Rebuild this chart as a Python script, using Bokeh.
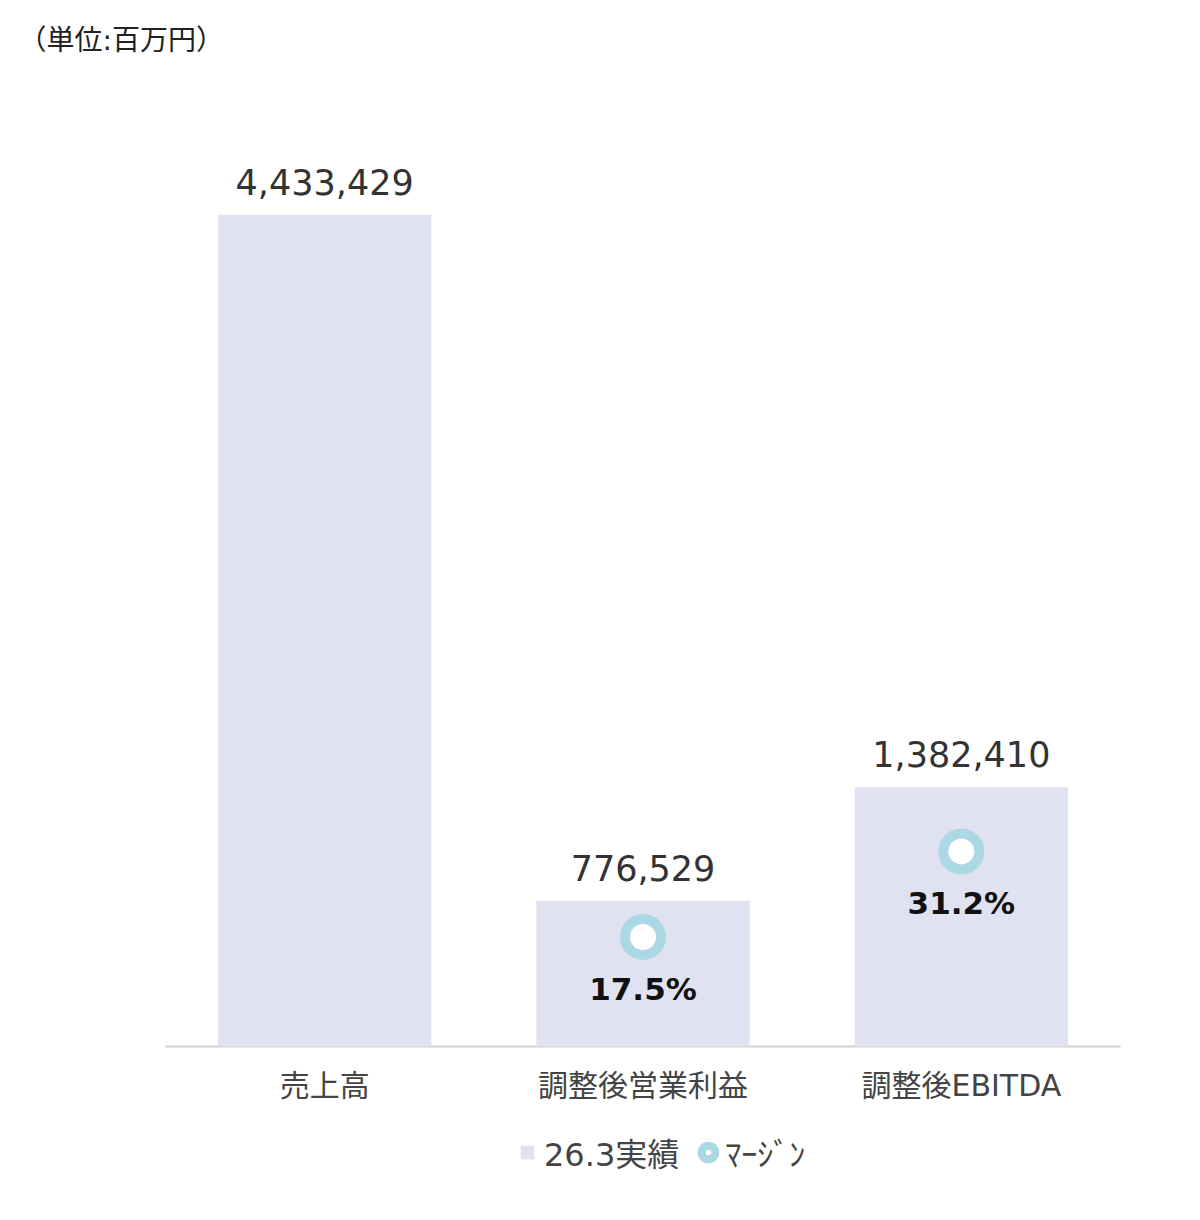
from bokeh.plotting import figure
from bokeh.models import Range1d, Legend, LegendItem, Label
from bokeh.core.properties import value
from bokeh.embed import file_html
from bokeh.resources import INLINE

# ---- data ----
categories = ["売上高", "調整後営業利益", "調整後EBITDA"]
actual = [4433429, 776529, 1382410]
actual_labels = ["4,433,429", "776,529", "1,382,410"]
margin_cats = ["調整後営業利益", "調整後EBITDA"]
margins = [17.5, 31.2]
margin_labels = ["17.5%", "31.2%"]
unit_label = "（単位:百万円）"
legend_bar = "26.3実績"
legend_margin = "ﾏｰｼﾞﾝ"

# ---- layout constants (pixels) ----
W, H = 1184, 1210
AX_LEFT, AX_RIGHT = 165, 1120      # horizontal extent of the category axis
AX_TOP, AX_BASE = 108, 1046        # top of value scale and baseline
Y_MAX, M_MAX = 5_000_000, 150      # value scale maxima at AX_TOP

n = len(categories)
xpx = (AX_RIGHT - AX_LEFT) / n
x_start = -AX_LEFT / xpx
x_end = (W - AX_LEFT) / xpx
ypx = (AX_BASE - AX_TOP) / Y_MAX
y_start = -(H - AX_BASE) / ypx
y_end = Y_MAX + AX_TOP / ypx
mpx = (AX_BASE - AX_TOP) / M_MAX
m_start = -(H - AX_BASE) / mpx
m_end = M_MAX + AX_TOP / mpx

xpos = {c: i + 0.5 for i, c in enumerate(categories)}
bar_x = [xpos[c] for c in categories]
margin_x = [xpos[c] for c in margin_cats]

BAR = "#e0e2f2"
RING = "#abd8e5"
FONT = "DejaVu Sans, Noto Sans CJK JP"

p = figure(
    x_range=Range1d(x_start, x_end), y_range=Range1d(y_start, y_end),
    width=W, height=H, min_border=0,
    x_axis_type=None, y_axis_type=None,
    output_backend="svg", toolbar_location=None,
)
p.extra_y_ranges = {"m": Range1d(m_start, m_end)}
p.outline_line_color = None
p.grid.visible = False

# baseline (category axis line)
p.segment(x0=[0], y0=[0], x1=[n], y1=[0], line_color="#d0d0d0", line_width=2)

p.vbar(x=bar_x, top=actual, width=0.67, fill_color=BAR, line_color=None)

# category labels
p.text(x=bar_x, y=[0] * n, text=categories, text_align="center",
       text_baseline="middle", y_offset=39, text_font=value(FONT),
       text_font_size="30px", text_color="#444444")

p.text(x=bar_x, y=actual, text=actual_labels, text_align="center",
       text_baseline="middle", y_offset=-33, text_font=value(FONT),
       text_font_size="35px", text_color="#333333")

p.scatter(x=margin_x, y=margins, y_range_name="m", size=36,
          fill_color="white", line_color=RING, line_width=10)

p.text(x=margin_x, y=margins, y_range_name="m", text=margin_labels,
       text_align="center", text_baseline="middle", y_offset=52,
       text_font=value(FONT), text_font_size="31px", text_font_style="bold",
       text_color="#111111")

# legend-only renderers (not drawn in plot)
nan = float("nan")
sq = p.scatter(x=[bar_x[0]], y=[nan], marker="square", size=10,
               fill_color=BAR, line_color=None)
rg = p.scatter(x=[bar_x[0]], y=[nan], marker="circle", size=10,
               fill_color="white", line_color=RING, line_width=8)

legend = Legend(
    items=[LegendItem(label=legend_bar, renderers=[sq]),
           LegendItem(label=legend_margin, renderers=[rg])],
    orientation="horizontal", location=(510, H - 1175),
    glyph_width=34, glyph_height=34, label_standoff=0, spacing=12,
    padding=0, margin=0, border_line_color=None, background_fill_alpha=0,
    label_text_font=FONT, label_text_font_size="32px",
    label_text_color="#444444", label_height=34,
)
p.add_layout(legend)

p.add_layout(Label(x=18, y=H - 40, x_units="screen", y_units="screen",
                   text=unit_label, text_baseline="middle",
                   text_font=FONT, text_font_size="28px", text_color="#222222"))

open("out.html", "w").write(file_html(p, INLINE))
